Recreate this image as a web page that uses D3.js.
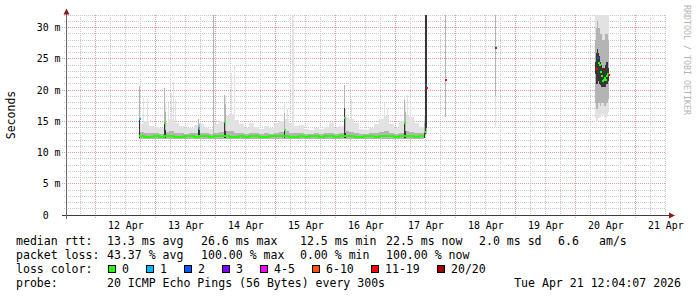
<!DOCTYPE html>
<html>
<head>
<meta charset="utf-8">
<script src="https://cdn.jsdelivr.net/npm/d3@7"></script>
<style>
    body { margin: 0; background: #fff; }
    svg { display: block; font-family: "DejaVu Sans Mono", monospace; }
    text { white-space: pre; }
</style>
</head>
<body>
<svg id="chart" width="697" height="297"></svg>
<script>
// Time range of the graph (UTC)
const timeStart = "2026-04-11T12:04:07";
const timeEnd = "2026-04-21T12:04:07";

// Axis labels
const yTicks = [0, 5, 10, 15, 20, 25, 30];
const yTickLabels = ["0  ", "5 m", "10 m", "15 m", "20 m", "25 m", "30 m"];
const dayLabels = ["12 Apr", "13 Apr", "14 Apr", "15 Apr", "16 Apr", "17 Apr", "18 Apr", "19 Apr", "20 Apr", "21 Apr"];

// Loss legend
const lossLabels = ["0", "1", "2", "3", "4-5", "6-10", "11-19", "20/20"];
const lossColors = ["#26ff00", "#00b8ff", "#0059ff", "#7e00ff", "#ff00ff", "#ff5500", "#ff0000", "#a10000"];

// Summary lines under the graph
const rttStats = ["13.3 ms avg", "26.6 ms max", "12.5 ms min", "22.5 ms now", "2.0 ms sd", "6.6", "am/s"];
const lossStats = ["43.37 % avg", "100.00 % max", "0.00 % min", "100.00 % now"];
const probeText = "20 ICMP Echo Pings (56 Bytes) every 300s";
const stampText = "Tue Apr 21 12:04:07 2026";

// Quiet period, one value every 2 hours from Apr 12 17:30 (ms)
const baseStart = "2026-04-12T17:30";
const baseMedian = [
    12.6, 12.5, 12.5, 12.6, 12.5, 12.6, 12.6, 12.5, 12.5, 12.6,
    12.6, 12.5, 12.6, 12.6, 12.5, 12.6, 12.7, 12.6, 12.5, 12.5,
    12.6, 12.5, 12.6, 12.6, 12.5, 12.5, 12.6, 12.6, 12.7, 12.6,
    12.5, 12.5, 12.6, 12.5, 12.6, 12.6, 12.5, 12.6, 12.6, 12.5,
    12.6, 12.7, 12.6, 12.5, 12.5, 12.6, 12.6, 12.5, 12.6, 12.7,
    12.6, 12.5, 12.6, 12.6, 12.6, 12.5, 12.6
];
const baseLow = [
    12.2, 12.1, 12.2, 12.2, 12.1, 12.2, 12.1, 12.2, 12.2, 12.1,
    12.2, 12.2, 12.1, 12.2, 12.2, 12.1, 12.2, 12.2, 12.1, 12.2,
    12.1, 12.2, 12.2, 12.1, 12.2, 12.2, 12.1, 12.2, 12.1, 12.2,
    12.2, 12.1, 12.2, 12.2, 12.1, 12.2, 12.2, 12.1, 12.2, 12.2,
    12.1, 12.2, 12.2, 12.1, 12.2, 12.2, 12.1, 12.2, 12.2, 12.1,
    12.2, 12.2, 12.1, 12.2, 12.2, 12.1, 12.2
];
const baseMid = [
    13.3, 13.2, 13.1, 13.1, 13.0, 13.3, 13.4, 13.2, 13.1, 13.0,
    13.1, 13.2, 13.2, 13.1, 13.0, 13.2, 13.3, 13.4, 13.4, 13.2,
    13.1, 13.0, 13.2, 13.1, 13.0, 13.1, 13.0, 13.2, 13.3, 13.4,
    13.2, 13.1, 13.1, 13.0, 13.0, 13.1, 13.0, 13.1, 13.2, 13.0,
    13.1, 13.4, 13.3, 13.1, 13.0, 13.0, 13.1, 13.2, 13.3, 13.4,
    13.1, 13.0, 13.2, 13.4, 13.3, 13.2, 13.1
];
const baseHigh = [
    14.6, 15.0, 14.3, 14.1, 13.9, 14.7, 15.4, 14.8, 14.2, 14.0,
    13.9, 14.4, 14.6, 14.0, 13.8, 14.5, 15.0, 15.8, 16.2, 15.2,
    14.5, 13.9, 14.8, 14.1, 13.8, 14.3, 13.9, 14.8, 15.0, 15.4,
    14.7, 14.3, 14.4, 13.8, 13.6, 13.9, 13.7, 14.1, 14.8, 13.9,
    14.3, 15.6, 15.4, 14.8, 13.8, 13.6, 13.9, 14.6, 15.4, 15.8,
    14.5, 13.9, 15.0, 15.9, 15.6, 14.8, 14.1
];

// Single 24 minute columns: spikes, the outage and the Apr 20 burst (ms)
const colTime = [
    "2026-04-12T17:40", "2026-04-12T19:04", "2026-04-12T20:40", "2026-04-13T03:40", "2026-04-13T04:04",
    "2026-04-13T05:04", "2026-04-13T06:16", "2026-04-13T07:04", "2026-04-13T07:52", "2026-04-13T17:16",
    "2026-04-13T17:40", "2026-04-13T23:04", "2026-04-14T03:28", "2026-04-14T03:52", "2026-04-14T06:16",
    "2026-04-14T07:28", "2026-04-15T03:28", "2026-04-15T04:52", "2026-04-15T06:40", "2026-04-15T07:04",
    "2026-04-16T03:40", "2026-04-16T04:04", "2026-04-16T06:16", "2026-04-16T19:28", "2026-04-16T20:40",
    "2026-04-17T03:28", "2026-04-17T03:52", "2026-04-17T04:52", "2026-04-17T05:52", "2026-04-17T11:28",
    "2026-04-17T11:52", "2026-04-17T12:16", "2026-04-17T19:48", "2026-04-18T15:48",
    "2026-04-20T07:52", "2026-04-20T08:16", "2026-04-20T08:40", "2026-04-20T09:04", "2026-04-20T09:28",
    "2026-04-20T09:52", "2026-04-20T10:16", "2026-04-20T10:40", "2026-04-20T11:04", "2026-04-20T11:28",
    "2026-04-20T11:52", "2026-04-20T12:16", "2026-04-20T12:40", "2026-04-20T13:04"
];
const colLow = [
    12.3, 12.6, 12.6, 12.3, 12.3, 12.6, 12.6, 12.6, 12.6, 12.3,
    12.3, 12.6, 12.3, 12.3, 12.6, 12.6, 12.3, 12.6, 12.6, 12.6,
    12.3, 12.3, 12.6, 12.6, 12.6, 12.3, 12.3, 12.6, 12.6, 12.3,
    12.8, 13.0, 15.7, 14.1,
    15.5, 14.9, 15.0, 15.5, 15.5, 15.7, 16.0, 16.2, 16.0, 15.6,
    15.5, 15.5, 15.8, 16.5
];
const colHigh = [
    20.7, 18.7, 18.5, 20.3, 17.9, 17.9, 19.5, 21.3, 18.4, 15.4,
    14.8, 32, 19.2, 19.0, 22.7, 24.0, 17.9, 17.0, 32, 32,
    20.8, 17.0, 18.5, 18.0, 17.0, 19.0, 18.0, 19.2, 18.0, 16.0,
    32, 32, 32, 32,
    32, 32, 32, 32, 32, 32, 32, 32, 32, 32,
    32, 32, 32, 32
];
const colMidLow = [
    12.3, null, null, 12.3, 12.3, null, null, null, null, 12.3,
    12.3, 12.6, 12.3, 12.3, null, null, 12.3, null, null, null,
    12.3, 12.3, null, null, null, 12.3, 12.3, null, null, 12.3,
    12.8, 13.0, 15.7, 19.0,
    18.0, 17.0, 17.0, 18.0, 18.0, 17.5, 18.0, 18.0, 18.0, 17.5,
    17.5, 18.0, 18.0, 18.5
];
const colMidHigh = [
    20.7, null, null, 20.3, 16.5, null, null, null, null, 15.4,
    14.5, 32, 19.2, 17.7, null, null, 16.3, null, null, null,
    20.8, 15.5, null, null, null, 18.4, 16.5, null, null, 15.0,
    32, 32, 32, 32,
    28.0, 30.0, 31.0, 30.0, 30.0, 29.0, 29.0, 28.0, 28.0, 28.0,
    29.0, 29.0, 29.0, 28.0
];
const colDarkLow = [
    12.3, null, null, 12.3, 12.3, null, null, null, null, 12.3,
    12.3, null, 12.3, 12.3, null, null, 12.3, null, null, null,
    12.3, 12.3, null, null, null, 12.3, 12.3, null, null, 12.3,
    13.0, 14.0, null, null,
    22.5, 21.0, 21.0, 21.5, 21.0, 20.8, 20.5, 20.5, 20.5, 20.5,
    20.5, 21.0, 21.0, 21.5
];
const colDarkHigh = [
    15.3, null, null, 14.8, 13.6, null, null, null, null, 14.0,
    13.6, null, 14.9, 13.5, null, null, 13.6, null, null, null,
    17.1, 13.2, null, null, null, 14.8, 13.4, null, null, 13.3,
    32, 32, null, null,
    24.5, 26.0, 26.5, 26.0, 25.5, 24.5, 24.0, 23.5, 23.5, 23.5,
    24.0, 24.5, 24.5, 23.5
];
const colMedian = [
    15.3, null, null, 14.8, null, null, null, null, null, 14.0,
    null, null, 14.9, null, null, null, 13.6, null, null, null,
    15.5, null, null, null, null, 14.8, null, null, null, 13.3,
    20.8, 20.3, 21.6, 26.7,
    null, 23.4, 25.1, 24.3, 24.0, 22.9, 22.2, 21.4, 21.6, 21.9,
    21.6, 22.2, 22.6, 22.4
];
// index into lossLabels / lossColors
const colLoss = [
    1, null, null, 0, null, null, null, null, null, 1,
    null, null, 0, null, null, null, 0, null, null, null,
    0, null, null, null, null, 0, null, null, null, 0,
    2, 6, 6, 6,
    null, 6, 2, 0, 0, 0, 0, 0, 0, 0,
    0, 0, 0, 6
];

// ---------------------------------------------------------------

const parseTime = d3.utcParse("%Y-%m-%dT%H:%M");
const parseFull = d3.utcParse("%Y-%m-%dT%H:%M:%S");
const parseDay = d3.utcParse("%d %b %Y %H");

const svg = d3.select("#chart");
svg.append("rect").attr("width", 697).attr("height", 297).attr("fill", "#fff");

const x = d3.scaleUtc()
    .domain([parseFull(timeStart), parseFull(timeEnd)])
    .range([66, 666]);
const y = d3.scaleLinear()
    .domain([0, 32])
    .range([215, 15]);

const px = v => Math.floor(v) + 0.5;

// Grid
const grid = svg.append("g").attr("stroke-dasharray", "1,1").attr("stroke-width", 1);

grid.selectAll(".hminor")
    .data(y.ticks(32).filter(v => v > 0 && v % 5 !== 0))
    .join("line")
    .attr("x1", 64).attr("x2", 666)
    .attr("y1", d => px(y(d))).attr("y2", d => px(y(d)))
    .attr("stroke", "#c8c8c8");

const hourTicks = x.ticks(d3.utcHour.every(6));
grid.selectAll(".vminor")
    .data(hourTicks.filter(t => t.getUTCHours() !== 0))
    .join("line")
    .attr("x1", d => px(x(d))).attr("x2", d => px(x(d)))
    .attr("y1", 15).attr("y2", 217)
    .attr("stroke", "#c8c8c8");

grid.selectAll(".hmajor")
    .data(yTicks.filter(v => v > 0))
    .join("line")
    .attr("x1", 62).attr("x2", 666)
    .attr("y1", d => px(y(d))).attr("y2", d => px(y(d)))
    .attr("stroke", "#e59b9b");

grid.selectAll(".vmajor")
    .data(x.ticks(d3.utcDay.every(1)))
    .join("line")
    .attr("x1", d => px(x(d))).attr("x2", d => px(x(d)))
    .attr("y1", 15).attr("y2", 219)
    .attr("stroke", "#e59b9b");

// Build samples for the smoke
const samples = [];
const base0 = parseTime(baseStart);
baseMedian.forEach((m, i) => {
    const t0 = d3.utcHour.offset(base0, 2 * i);
    samples.push({
        t0, t1: d3.utcHour.offset(t0, 2),
        lo: baseLow[i], hi: baseHigh[i],
        mlo: baseLow[i], mhi: baseMid[i],
        dlo: null, dhi: null
    });
});
colTime.forEach((s, i) => {
    const t0 = parseTime(s);
    samples.push({
        t0, t1: d3.utcMinute.offset(t0, 24),
        lo: colLow[i], hi: colHigh[i],
        mlo: colMidLow[i], mhi: colMidHigh[i],
        dlo: colDarkLow[i], dhi: colDarkHigh[i],
        med: colMedian[i], loss: colLoss[i]
    });
});

const plot = svg.append("g").attr("shape-rendering", "crispEdges");

function drawLayer(color, loKey, hiKey) {
    plot.append("g")
        .attr("fill", color)
        .selectAll("rect")
        .data(samples.filter(d => d[loKey] != null && d[hiKey] != null))
        .join("rect")
        .attr("x", d => Math.floor(x(d.t0)))
        .attr("width", d => Math.max(1, Math.floor(x(d.t1)) - Math.floor(x(d.t0))))
        .attr("y", d => Math.round(y(d[hiKey])))
        .attr("height", d => Math.max(1, Math.round(y(d[loKey])) - Math.round(y(d[hiKey]))));
}

drawLayer("#e2e2e2", "lo", "hi");
drawLayer("#b4b4b4", "mlo", "mhi");
drawLayer("#363636", "dlo", "dhi");

// Median of the quiet period
const basePoints = baseMedian.map((m, i) => [Math.floor(x(d3.utcHour.offset(base0, 2 * i))), y(m)]);
basePoints.push([Math.floor(x(d3.utcHour.offset(base0, 2 * baseMedian.length))), y(baseMedian[baseMedian.length - 1])]);
plot.append("path")
    .attr("d", d3.line().curve(d3.curveStepAfter)(basePoints))
    .attr("fill", "none")
    .attr("stroke", lossColors[0])
    .attr("stroke-width", 2);

// Median points coloured by loss
plot.append("g")
    .selectAll("rect")
    .data(samples.filter(d => d.med != null))
    .join("rect")
    .attr("x", d => Math.floor(x(d.t0)))
    .attr("width", 2)
    .attr("y", d => Math.round(y(d.med)) - 1)
    .attr("height", 2)
    .attr("fill", d => lossColors[d.loss]);

// Axes
const axisColor = "#3c3c3c";
const arrowColor = "#8e1a1a";
svg.append("line")
    .attr("x1", 62).attr("x2", 670).attr("y1", 215.5).attr("y2", 215.5)
    .attr("stroke", axisColor);
svg.append("line")
    .attr("x1", 66.5).attr("x2", 66.5).attr("y1", 13).attr("y2", 219)
    .attr("stroke", "#6a6a6a");
svg.append("path")
    .attr("d", "M63.5,14.5 L66.5,8.5 L69.5,14.5 Z")
    .attr("fill", arrowColor);
svg.append("path")
    .attr("d", "M669,212.5 L675,215.5 L669,218.5 Z")
    .attr("fill", arrowColor);

// Y tick labels
svg.append("g")
    .attr("font-size", "9.9px")
    .attr("text-anchor", "end")
    .selectAll("text")
    .data(yTicks)
    .join("text")
    .attr("x", 60.5)
    .attr("y", d => y(d) + 3.6)
    .text((d, i) => yTickLabels[i]);

// X tick labels, centred at noon
svg.append("g")
    .attr("font-size", "9.9px")
    .attr("text-anchor", "middle")
    .selectAll("text")
    .data(dayLabels)
    .join("text")
    .attr("x", d => x(parseDay(d + " 2026 12")))
    .attr("y", 228.5)
    .text(d => d);

// Vertical label
svg.append("text")
    .attr("transform", "translate(14.5,115) rotate(-90)")
    .attr("text-anchor", "middle")
    .attr("font-size", "11.5px")
    .text("Seconds");

// Watermark
svg.append("text")
    .attr("transform", "translate(684,5) rotate(90)")
    .attr("font-size", "8.3px")
    .attr("fill", "#b4b4b4")
    .text("RRDTOOL / TOBI OETIKER");

// Legend
const legend = svg.append("g").attr("font-size", "11.55px");
const colX = [107, 201, 300, 386, 479, 558, 599];

legend.append("text").attr("x", 16).attr("y", 245).text("median rtt:");
rttStats.forEach((s, i) => legend.append("text").attr("x", colX[i]).attr("y", 245).text(s));

legend.append("text").attr("x", 16).attr("y", 259).text("packet loss:");
lossStats.forEach((s, i) => legend.append("text").attr("x", colX[i]).attr("y", 259).text(s));

legend.append("text").attr("x", 16).attr("y", 273).text("loss color:");
let lx = 108;
lossLabels.forEach((label, i) => {
    legend.append("rect")
        .attr("x", lx + 0.5).attr("y", 265.5)
        .attr("width", 7).attr("height", 7)
        .attr("fill", lossColors[i])
        .attr("stroke", "#000");
    legend.append("text").attr("x", lx + 14).attr("y", 273).text(label);
    lx += 31 + 7 * label.length;
});

legend.append("text").attr("x", 16).attr("y", 287).text("probe:");
legend.append("text").attr("x", 107).attr("y", 287).text(probeText);
legend.append("text").attr("x", 681).attr("y", 287).attr("text-anchor", "end").text(stampText);
</script>
</body>
</html>
